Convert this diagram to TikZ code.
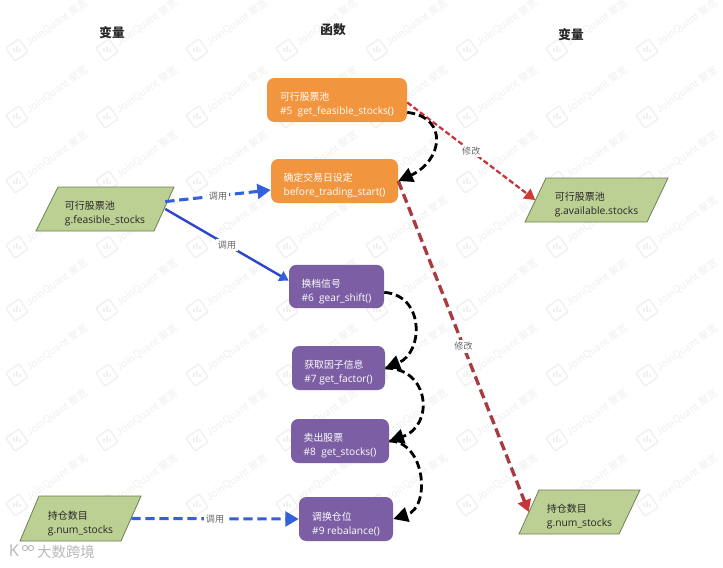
\documentclass[tikz,border=0pt]{standalone}
\usepackage{fontspec}
\usetikzlibrary{arrows.meta,calc}
\setmainfont[Scale=1.03]{Open Sans}
\newfontfamily\cjk{Noto Sans CJK SC}
\newcommand{\fnhead}[1]{\rule{0pt}{13.5pt}{\cjk #1}}
\definecolor{orangebox}{HTML}{F2953F}
\definecolor{purplebox}{HTML}{7B5EA3}
\definecolor{greenbox}{HTML}{BDD094}
\definecolor{greenedge}{HTML}{6E7F55}
\definecolor{bluelink}{HTML}{3560DC}
\definecolor{bluedark}{HTML}{2E45CC}
\definecolor{redlink}{HTML}{C8343A}
\definecolor{darkred}{HTML}{A83A40}
\definecolor{wm}{HTML}{F0F0F0}
\tikzset{
  px/.style={x=0.75pt,y=-0.75pt},
  funcbox/.style={rounded corners=5.5pt,text=white,align=left,inner sep=0pt,font=\fontsize{7.4pt}{10.5pt}\selectfont},
  orangefn/.style={funcbox,fill=orangebox},
  purplefn/.style={funcbox,fill=purplebox},
  varlabel/.style={align=left,inner sep=0pt,minimum height=33pt,font=\fontsize{7.5pt}{10.5pt}\selectfont,text=black!85},
  parashape/.style={draw=greenedge,line width=0.6pt,fill=greenbox},
  header/.style={font=\cjk\bfseries\fontsize{9.5pt}{11pt}\selectfont,text=black!85},
  linklabel/.style={fill=white,inner sep=1.5pt,text=black!60,font=\cjk\fontsize{6.8pt}{8pt}\selectfont},
  flow/.style={line width=2.1pt,dash pattern=on 6pt off 3pt,-{Triangle[length=11pt,width=11pt]}},
  usedash/.style={bluelink,line width=2.3pt,dash pattern=on 7pt off 3.5pt,-{Triangle[length=10pt,width=11pt]}},
  usesolid/.style={bluedark,line width=1.8pt,-{Triangle[length=7pt,width=8pt,color=bluelink]}},
  modthin/.style={redlink,line width=1.7pt,dash pattern=on 4pt off 2pt,-{Triangle[length=8pt,width=9pt,color=redlink!90!orange]}},
  modthick/.style={darkred,line width=2.5pt,dash pattern=on 7pt off 3.5pt,-{Triangle[length=9pt,width=10pt,color=redlink]}},
  wmtext/.style={text=wm,rotate=35,inner sep=0pt,anchor=west,font=\cjk\fontsize{7.6pt}{9pt}\selectfont},
  wmlogo/.style={draw=wm,line width=1pt,rounded corners=1pt,rotate=35,minimum size=12pt,inner sep=0pt}
}
\begin{document}
\begin{tikzpicture}[px]
\useasboundingbox (0,0) rectangle (723,567);
\fill[white] (0,0) rectangle (723,567);
% watermark
\foreach \wx in {15,105,...,645}{
  \foreach \wy in {50,117,182,247,310,375,440,505}{
    \node[wmlogo] (wl) at (\wx+2,\wy) {};
    \draw[wm,line width=1pt] ($(wl.center)+(-3,2)$) -- +(0,-4) ($(wl.center)+(0,2)$) -- +(0,-6) ($(wl.center)+(3,2)$) -- +(0,-3);
    \node[wmtext] at (\wx+12,\wy-6) {JoinQuant 聚宽};
  }
}
% headers
\node[header] (h1) at (112,33) {变量};
\node[header] (h2) at (333,30) {函数};
\node[header] (h3) at (571,35) {变量};
% parallelogram bodies
\draw[parashape] (58,187) -- (174,187) -- (154,231) -- (36,231) -- cycle;
\draw[parashape] (39,496) -- (141,496) -- (121,541) -- (20,541) -- cycle;
\draw[parashape] (546,178) -- (668,178) -- (647,222) -- (525,222) -- cycle;
\draw[parashape] (539,490) -- (640,490) -- (619,534) -- (519,534) -- cycle;
% variable labels
\node[varlabel,minimum width=90pt] (l1) at (105,209) {\fnhead{可行股票池}\\g.feasible\_stocks};
\node[varlabel,minimum width=75.75pt] (l2) at (80.5,518.5) {\fnhead{持仓数目}\\g.num\_stocks};
\node[varlabel,minimum width=91.5pt] (r1) at (596.5,200) {\fnhead{可行股票池}\\g.available.stocks};
\node[varlabel,minimum width=75.75pt] (r2) at (579.5,512) {\fnhead{持仓数目}\\g.num\_stocks};
% functions
\node[orangefn,minimum width=105pt,minimum height=33pt] (o1) at (337,100) {\fnhead{可行股票池}\\\#5\ \ get\_feasible\_stocks()};
\node[orangefn,minimum width=95.25pt,minimum height=33pt] (o2) at (334.5,181) {\fnhead{确定交易日设定}\\before\_trading\_start()};
\node[purplefn,minimum width=71.25pt,minimum height=32.5pt] (p6) at (336.5,286.5) {\fnhead{换档信号}\\\#6\ \ gear\_shift()};
\node[purplefn,minimum width=69.75pt,minimum height=33pt] (p7) at (338.5,368) {\fnhead{获取因子信息}\\\#7 get\_factor()};
\node[purplefn,minimum width=73.5pt,minimum height=33pt] (p8) at (340,441) {\fnhead{卖出股票}\\\#8\ \ get\_stocks()};
\node[purplefn,minimum width=70.5pt,minimum height=33pt] (p9) at (346,519) {\fnhead{调换仓位}\\\#9 rebalance()};
% blue links
\draw[usedash] (l1.7) -- node[linklabel] {调用} (o2.188);
\draw[usesolid] (l1.east) -- node[linklabel] {调用} (p6.173);
\draw[usedash] (l2.east) -- node[linklabel] {调用} (p9.west);
% red links
\draw[modthin] (o1.358) -- node[linklabel] {修改} (r1.west);
\draw[modthick] (o2.east) -- node[linklabel] {修改} (r2.west);
% black flow curves
\draw[flow] (o1.350) .. controls +(42,5) and +(44,-20) .. (o2.east);
\draw[flow] (p6.353) .. controls +(41,3) and +(38,-15) .. (p7.east);
\draw[flow] (p7.east) .. controls +(45,0) and +(45,-15) .. (p8.east);
\draw[flow] (p8.east) .. controls +(36,0) and +(38,-12) .. (p9.east);
% source mark
\node[inner sep=0pt,text=black!28,font=\cjk\fontsize{10.8pt}{12pt}\selectfont] (mark) at (66,552) {大数跨境};
\node[inner sep=0pt,text=black!28,font=\fontsize{12pt}{13pt}\selectfont] (markicon) at (14,551) {K};
\draw[black!28,line width=0.7pt] ($(markicon.center)+(11,-3)$) circle (2.6) ($(markicon.center)+(17,-3)$) circle (2.6);
\end{tikzpicture}
\end{document}
